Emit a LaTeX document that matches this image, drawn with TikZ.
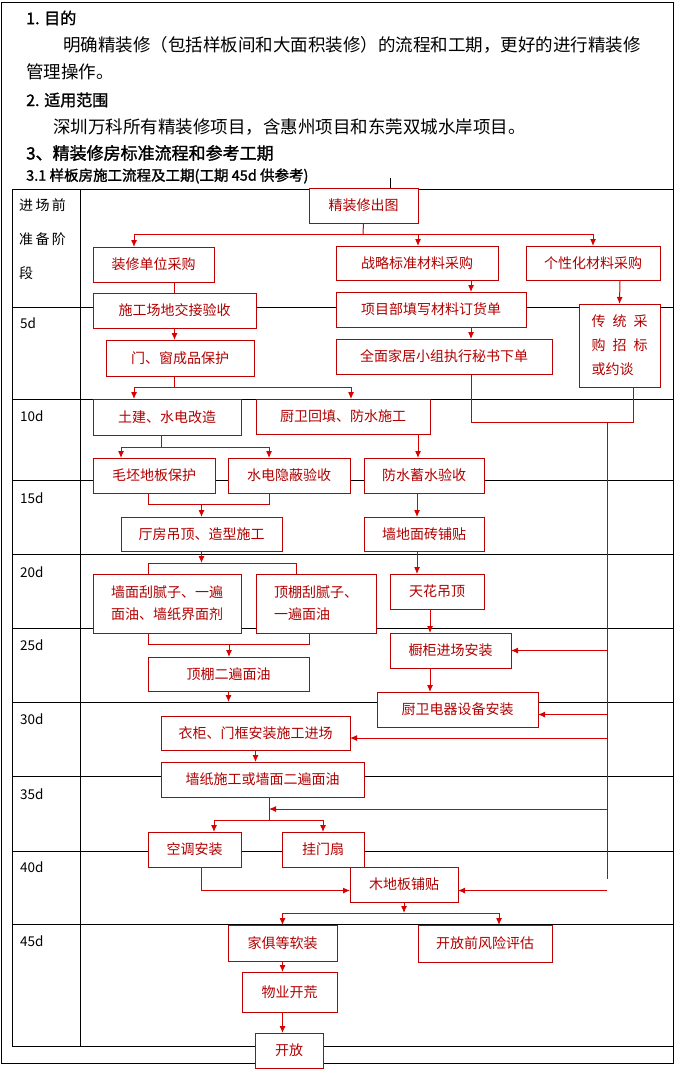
\documentclass[tikz,border=0pt]{standalone}
\usepackage{fontspec}
\newfontfamily\cjk{Noto Sans CJK SC}
\newfontfamily\cjkb{Noto Sans CJK SC}[FakeBold=1.5]
\usetikzlibrary{arrows.meta}
\begin{document}
\begin{tikzpicture}[x=1pt,y=-1pt,
  bx/.style={draw=red!75!black,fill=white,line width=1pt,inner sep=0pt,outer sep=0pt,text=red!70!black,font=\cjk\fontsize{14}{22}\selectfont,align=center},
  ln/.style={draw=red!80!black,line width=1pt},
  arr/.style={ln,-{Latex[length=7pt,width=6pt]},red!85!black},
  tl/.style={black,line width=0.8pt},
  lab/.style={anchor=west,font=\cjk\fontsize{12}{26}\selectfont,align=left,inner sep=0pt}]
\useasboundingbox (0,0) rectangle (675,1070);
% frame and table
\draw[tl] (1.5,2) rectangle (673.5,1063);
\draw[tl] (390,178) -- (390,189);
\draw[tl] (12,189) -- (673,189);
\draw[tl] (12,189) -- (12,1046) -- (673,1046);
\draw[tl] (80,189) -- (80,1046);
\foreach \yy in {307,399,480,554,628,702,776,851,924} \draw[tl] (12,\yy) -- (673,\yy);
% header texts
\node[lab,font=\cjkb\fontsize{16}{18}\selectfont] (h1) at (26,18) {1. 目的};
\node[lab,font=\cjk\fontsize{17.5}{18}\selectfont] (h2) at (63,45) {明确精装修（包括样板间和大面积装修）的流程和工期，更好的进行精装修};
\node[lab,font=\cjk\fontsize{17.5}{18}\selectfont] (h3) at (26,72) {管理操作。};
\node[lab,font=\cjkb\fontsize{16}{18}\selectfont] (h4) at (26,100) {2. 适用范围};
\node[lab,font=\cjk\fontsize{17.5}{18}\selectfont] (h5) at (53,127) {深圳万科所有精装修项目，含惠州项目和东莞双城水岸项目。};
\node[lab,font=\cjkb\fontsize{17}{18}\selectfont] (h6) at (26,153) {3、精装修房标准流程和参考工期};
\node[lab,font=\cjkb\fontsize{14.5}{16}\selectfont] (h7) at (26,176) {3.1 样板房施工流程及工期(工期 45d 供参考)};
% left labels
\node[lab,anchor=north west,font=\cjk\fontsize{14}{34}\selectfont] (l0) at (19,198) {进\,场\,前\\准\,备\,阶\\段};
\foreach \t/\yy in {5d/323,10d/416,15d/498,20d/572,25d/645,30d/719,35d/794,40d/867,45d/941}
  \node[lab,font=\cjk\fontsize{13.5}{14}\selectfont] at (20,\yy) {\t};
% boxes
\node[bx,minimum width=109,minimum height=35] (A) at (363.5,205.5) {精装修出图};
\node[bx,minimum width=121,minimum height=35] (B) at (153.5,264.5) {装修单位采购};
\node[bx,minimum width=162,minimum height=34] (C) at (417,263) {战略标准材料采购};
\node[bx,minimum width=134,minimum height=34] (D) at (593,263) {个性化材料采购};
\node[bx,minimum width=163,minimum height=35] (E) at (174.5,310.5) {施工场地交接验收};
\node[bx,minimum width=190,minimum height=35] (F) at (431,309.5) {项目部填写材料订货单};
\node[bx,minimum width=81,minimum height=83,align=left,font=\cjk\fontsize{14}{24}\selectfont] (G) at (619.5,345.5) {传\,\,\,统\,\,\,采\\购\,\,\,招\,\,\,标\\或约谈};
\node[bx,minimum width=148,minimum height=36] (H) at (180,358) {门、窗成品保护};
\node[bx,minimum width=216,minimum height=35] (I) at (444,356.5) {全面家居小组执行秘书下单};
\node[bx,minimum width=148,minimum height=36] (J) at (167,417) {土建、水电改造};
\node[bx,minimum width=174,minimum height=35] (K) at (343,416.5) {厨卫回填、防水施工};
\node[bx,minimum width=122,minimum height=35] (L) at (154,475.5) {毛坯地板保护};
\node[bx,minimum width=122,minimum height=35] (M) at (289,475.5) {水电隐蔽验收};
\node[bx,minimum width=120,minimum height=35] (N) at (424,475.5) {防水蓄水验收};
\node[bx,minimum width=161,minimum height=34] (O) at (201.5,534) {厅房吊顶、造型施工};
\node[bx,minimum width=120,minimum height=34] (P) at (424,534) {墙地面砖铺贴};
\node[bx,minimum width=148,minimum height=59,align=left] (Q) at (167,603.5) {墙面刮腻子、一遍\\面油、墙纸界面剂};
\node[bx,minimum width=120,minimum height=59,align=left] (R) at (316,603.5) {顶棚刮腻子、\\一遍面油};
\node[bx,minimum width=94,minimum height=35] (S) at (437,591.5) {天花吊顶};
\node[bx,minimum width=121,minimum height=35] (T) at (450.5,650.5) {橱柜进场安装};
\node[bx,minimum width=161,minimum height=34] (U) at (228.5,674) {顶棚二遍面油};
\node[bx,minimum width=161,minimum height=35] (V) at (457.5,709.5) {厨卫电器设备安装};
\node[bx,minimum width=189,minimum height=34] (W) at (255.5,733) {衣柜、门框安装施工进场};
\node[bx,minimum width=203,minimum height=35] (X) at (262.5,779.5) {墙纸施工或墙面二遍面油};
\node[bx,minimum width=93,minimum height=35] (Y) at (194.5,849.5) {空调安装};
\node[bx,minimum width=82,minimum height=35] (Z) at (323,849.5) {挂门扇};
\node[bx,minimum width=108,minimum height=35] (AA) at (404,884.5) {木地板铺贴};
\node[bx,minimum width=109,minimum height=36] (AB) at (282.5,943) {家俱等软装};
\node[bx,minimum width=134,minimum height=37] (AC) at (485,943.5) {开放前风险评估};
\node[bx,minimum width=95,minimum height=40] (AD) at (289.5,992) {物业开荒};
\node[bx,minimum width=68,minimum height=35] (AE) at (289,1050.5) {开放};
% connectors
\draw[ln] (A.south) -- (363,234) coordinate (a1);
\draw[arr] (a1) -| ([xshift=-19.5]B.north);
\draw[arr] (a1) -| ([xshift=1]C.north);
\draw[arr] (a1) -| (D.north);
\draw[ln] (E.north) -- (E.north |- B.south);
\draw[arr] ([xshift=54]C.south) -- ([xshift=40]F.north);
\draw[arr] ([xshift=40]F.south) -- ([xshift=27]I.north);
\draw[arr] ([xshift=27]D.south) -- (G.north);
\draw[arr] (E.south) -- ([xshift=-5.5]H.north);
\draw[ln] ([xshift=-6]H.south) -- (174,387) coordinate (h1);
\draw[arr] (h1) -| ([xshift=-33]J.north);
\draw[arr] (h1) -| ([xshift=8]K.north);
\draw[ln] ([xshift=27]I.south) -- ++(0,48) -| ([xshift=13.5]G.south);
\coordinate (t0) at (607,422);
\coordinate (t1) at (607,878.5);
\draw[ln] (t0) -- (t1);
\draw[ln] ([xshift=-6]J.south) -- (161,447) coordinate (j1);
\draw[arr] (j1) -| ([xshift=-33]L.north);
\draw[arr] (j1) -| ([xshift=-20]M.north);
\draw[arr] ([xshift=75]K.south) -- ([xshift=-6]N.north);
\draw[ln] ([xshift=-6]L.south) |- (269,504) coordinate (lm) -- ([xshift=-20]M.south);
\draw[arr] (201.5,504) -- (O.north);
\draw[arr] ([xshift=-7]N.south) -- ([xshift=-7]P.north);
\draw[arr] (O.south) -- (201.5,563);
\draw[ln] ([xshift=-19]Q.north) -- ++(0,-11) -| ([xshift=-20]R.north);
\draw[arr] ([xshift=-7]P.south) -- ([xshift=-20]S.north);
\draw[arr] ([xshift=-7]S.south) -- ([xshift=-20.5]T.north);
\draw[ln] ([xshift=-19]Q.south) -- ++(0,11) -| ([xshift=-7]R.south);
\draw[arr] (229,644) -- ([xshift=0.5]U.north);
\draw[arr] (U.south) -- ++(0,11);
\draw[arr] ([xshift=-20.5]T.south) -- ([xshift=-27.5]V.north);
\draw[arr] (T.east -| t0) -- (T.east);
\draw[arr] ([yshift=-5]V.east -| t0) -- ([yshift=-5]V.east);
\draw[arr] ([yshift=-5]W.east -| t0) -- ([yshift=-5]W.east);
\draw[arr] (W.south) -- ([xshift=-7]X.north);
\draw[ln] ([xshift=6.5]X.south) -- (269,820) coordinate (x1);
\draw[arr] (x1) -| ([xshift=19.5]Y.north);
\draw[arr] (x1) -| (Z.north);
\draw[arr] (607,809) -- (269,809);
\draw[arr] ([xshift=6.5]Y.south) |- ([yshift=-6]AA.west);
\draw[arr] ([yshift=-6]AA.east -| t0) -- ([yshift=-6]AA.east);
\draw[arr] (AA.south) -- (404,913) coordinate (aa1);
\draw[arr] (aa1) -| (AB.north);
\draw[arr] (aa1) -| ([xshift=14]AC.north);
\draw[arr] (AB.south) -- (AB.south |- AD.north);
\draw[arr] (AB.south |- AD.south) -- (AB.south |- AE.north);
\end{tikzpicture}
\end{document}
